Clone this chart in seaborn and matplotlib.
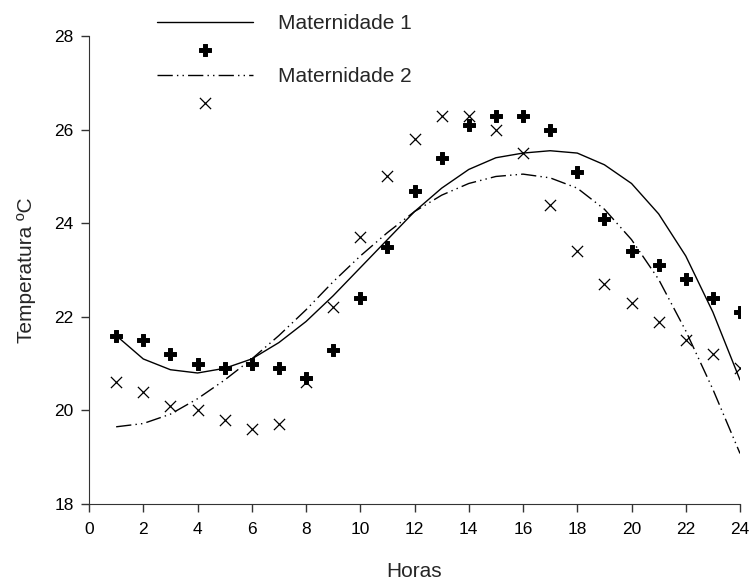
import numpy as np
import pandas as pd
import matplotlib
matplotlib.use("Agg")
import matplotlib.pyplot as plt
import seaborn as sns

horas = list(range(1, 25))

# observed temperatures
mat1_obs = [21.6, 21.5, 21.2, 21.0, 20.9, 21.0, 20.9, 20.7, 21.3, 22.4, 23.5, 24.7,
            25.4, 26.1, 26.3, 26.3, 26.0, 25.1, 24.1, 23.4, 23.1, 22.8, 22.4, 22.1]
mat2_obs = [20.6, 20.4, 20.1, 20.0, 19.8, 19.6, 19.7, 20.6, 22.2, 23.7, 25.0, 25.8,
            26.3, 26.3, 26.0, 25.5, 24.4, 23.4, 22.7, 22.3, 21.9, 21.5, 21.2, 20.9]

# fitted curves
mat1_fit = [21.6, 21.1, 20.87, 20.8, 20.9, 21.1, 21.45, 21.9, 22.45, 23.05, 23.65, 24.25,
            24.75, 25.15, 25.4, 25.5, 25.55, 25.5, 25.25, 24.85, 24.2, 23.3, 22.1, 20.65]
mat2_fit = [19.65, 19.72, 19.92, 20.25, 20.65, 21.1, 21.6, 22.15, 22.75, 23.3, 23.8, 24.25,
            24.6, 24.85, 25.0, 25.05, 24.97, 24.75, 24.3, 23.65, 22.8, 21.7, 20.45, 19.08]

df = pd.DataFrame({"Horas": horas, "m1": mat1_obs, "m2": mat2_obs, "f1": mat1_fit, "f2": mat2_fit})

sns.set_style("ticks")
plt.rcParams['font.family'] = ['Liberation Sans', 'DejaVu Sans']

fig = plt.figure(figsize=(7.5, 5.82), dpi=100)
ax = fig.add_axes([0.1187, 0.134, 0.868, 0.804])

sns.lineplot(data=df, x="Horas", y="f1", color="black", linewidth=1, ax=ax, label="Maternidade 1")
sns.scatterplot(data=df, x="Horas", y="m1", marker="P", s=75, color="black", edgecolor="black", ax=ax, label=" ")
sns.lineplot(data=df, x="Horas", y="f2", color="black", linewidth=1, ax=ax, label="Maternidade 2")
ax.lines[-1].set_dashes((11, 3, 1, 3, 1, 3))
sns.scatterplot(data=df, x="Horas", y="m2", marker="x", s=65, color="black", linewidth=0.9, ax=ax, label="  ")

ax.set_xlim(0, 24)
ax.set_ylim(18, 28)
ax.set_xticks(range(0, 25, 2))
ax.set_yticks(range(18, 29, 2))
ax.tick_params(labelsize=12.5, length=6, width=1, colors="#333333", labelcolor="black")
ax.tick_params(axis="x", pad=7)
ax.tick_params(axis="y", pad=5)
for s in ["left", "bottom"]:
    ax.spines[s].set_color("#333333")
sns.despine(ax=ax)
ax.set_xlabel("Horas", fontsize=15, labelpad=18)
ax.set_ylabel("Temperatura ºC", fontsize=15, labelpad=13)

handles, labels = ax.get_legend_handles_labels()
ax.legend(handles, ["Maternidade 1", "", "Maternidade 2", ""], loc="upper left",
          bbox_to_anchor=(0.195, 0.993), bbox_transform=fig.transFigure, frameon=False,
          fontsize=15, handlelength=4.6, handletextpad=1.2, labelspacing=0.35, borderpad=0)

fig.savefig("out.png", dpi=100)
